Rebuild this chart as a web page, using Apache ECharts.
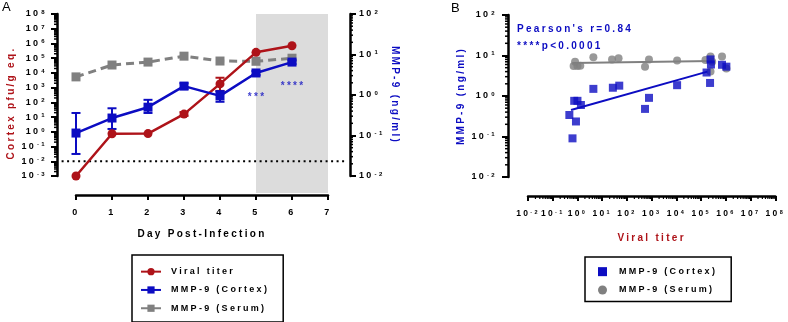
<!DOCTYPE html>
<html><head><meta charset="utf-8">
<script src="https://cdn.jsdelivr.net/npm/echarts@6/dist/echarts.min.js"></script>
<style>html,body{margin:0;padding:0;background:#fff}#c{width:788px;height:322px}</style>
</head><body><div id="c"></div>
<script>
// GraphPad-style wide character spacing for all canvas text
(function(){
  const P = CanvasRenderingContext2D.prototype;
  const LS = '2.3px';
  const f = P.fillText, m = P.measureText;
  P.fillText = function(){ try{ this.letterSpacing = LS; }catch(e){} return f.apply(this, arguments); };
  P.measureText = function(){ try{ this.letterSpacing = LS; }catch(e){} return m.apply(this, arguments); };
})();

// ---------- Panel A data ----------
const days = [0, 1, 2, 3, 4, 5, 6];
const viralTiter = [0.001, 0.74, 0.76, 16, 1800, 250000, 700000];
const viralErrDays = [3, 4];
const viralErrLow = [12, 600];
const viralErrHigh = [22, 4700];
const cortexMean = [0.115, 0.27, 0.5, 1.66, 0.95, 3.5, 6.5];
const cortexLow  = [0.035, 0.145, 0.36, 1.4, 0.68, 3.1, 5.8];
const cortexHigh = [0.36, 0.47, 0.76, 1.95, 1.25, 3.9, 7.2];
const serumMean = [2.8, 5.5, 6.5, 9.1, 6.9, 6.8, 8.1];
const shadedDays = [5, 7];
const detectionLimit = 0.01;
const detectionLineDays = [-0.4, 7.5];
const starDays = [5.03, 6.03];
const starY = [0.89, 1.66];
const starText = ['***', '****'];

// ---------- Panel B data ----------
const serumX = [0.7, 0.8, 1.0, 1.3, 4.4, 25, 46, 540, 780, 10700, 150000, 240000, 280000, 240000, 700000, 1050000];
const serumY = [5.5, 7.0, 5.5, 5.6, 9.0, 8.0, 8.5, 5.3, 8.0, 7.5, 7.7, 9.4, 7.0, 4.0, 9.4, 4.8];
const cortexX = [0.47, 0.74, 1.0, 1.38, 0.87, 0.63, 4.4, 27, 49, 540, 780, 10700, 166000, 240000, 250000, 230000, 700000, 1050000];
const cortexY = [0.34, 0.76, 0.76, 0.6, 0.235, 0.09, 1.5, 1.6, 1.8, 0.48, 0.9, 1.85, 3.8, 8.0, 6.0, 2.1, 5.9, 5.3];
const serumFitX = [0.63, 280000];
const serumFitY = [6.5, 7.3];
const cortexFitX = [0.55, 180000];
const cortexFitY = [0.45, 4.0];

// ---------- styling ----------
const FF = '"Liberation Sans", Arial, sans-serif';
const RED = '#ae1319', BLUE = '#0c0cc2', GRAY = '#808080', SHADE = '#dcdcdc';
const OFF_AX = 19, OFF_AYL = 19, OFF_AYR = 22, OFF_BX = 19, OFF_BY = 20;

function pow10(v){ const e = Math.round(Math.log10(v)); return '{b|10}{s|' + e + '}'; }
const rich = {
  b: {fontSize: 9, fontWeight: 'bold', fontFamily: FF, color: '#000', lineHeight: 12},
  s: {fontSize: 6, fontWeight: 'bold', fontFamily: FF, color: '#000', verticalAlign: 'top', padding: [0, 0, 0, 1]}
};
const richTight = {
  b: {fontSize: 8.5, fontWeight: 'bold', fontFamily: FF, color: '#000', lineHeight: 12},
  s: {fontSize: 5.5, fontWeight: 'bold', fontFamily: FF, color: '#000', verticalAlign: 'top'}
};
const axisLine = {show: true, onZero: false, lineStyle: {color: '#000', width: 2.5}};
const axisTick = {show: true, length: 6, lineStyle: {color: '#000', width: 2}};
const nameStyle = (c, pad) => ({fontSize: 10, fontWeight: 'bold', fontFamily: FF, color: c, padding: pad || 0});

function minorVals(lo, hi){ const r = []; for (let k = lo; k < hi; k++) for (let j = 2; j <= 9; j++) r.push(j * Math.pow(10, k)); return r; }

function errSeries(xIdx, yIdx, xs, lo, hi, color){
  return {
    type: 'custom', xAxisIndex: xIdx, yAxisIndex: yIdx, z: 3, clip: false,
    encode: {x: 0, y: [1, 2]},
    data: xs.map((x, i) => [x, lo[i], hi[i]]),
    renderItem(params, api){
      const a = api.coord([api.value(0), api.value(1)]), b = api.coord([api.value(0), api.value(2)]);
      const w = 4.5, st = {stroke: color, lineWidth: 2};
      return {type: 'group', children: [
        {type: 'line', shape: {x1: a[0], y1: a[1], x2: b[0], y2: b[1]}, style: st},
        {type: 'line', shape: {x1: a[0] - w, y1: a[1], x2: a[0] + w, y2: a[1]}, style: st},
        {type: 'line', shape: {x1: b[0] - w, y1: b[1], x2: b[0] + w, y2: b[1]}, style: st}
      ]};
    }
  };
}
// minor ticks on a y axis that is offset from the grid edge
function minorY(xIdx, yIdx, xRef, vals, dir, off){
  return {
    type: 'custom', xAxisIndex: xIdx, yAxisIndex: yIdx, clip: false, silent: true, z: 5,
    encode: {x: 0, y: 1}, data: vals.map(v => [xRef, v]),
    renderItem(params, api){
      const p = api.coord([api.value(0), api.value(1)]);
      const x0 = p[0] + dir * off;
      return {type: 'line', shape: {x1: x0, y1: p[1], x2: x0 + dir * 3, y2: p[1]}, style: {stroke: '#000', lineWidth: 1.5}};
    }
  };
}
function minorX(xIdx, yIdx, yRef, vals, off){
  return {
    type: 'custom', xAxisIndex: xIdx, yAxisIndex: yIdx, clip: false, silent: true, z: 5,
    encode: {x: 0, y: 1}, data: vals.map(v => [v, yRef]),
    renderItem(params, api){
      const p = api.coord([api.value(0), api.value(1)]);
      const y0 = p[1] + off;
      return {type: 'line', shape: {x1: p[0], y1: y0, x2: p[0], y2: y0 + 3}, style: {stroke: '#000', lineWidth: 1.2}};
    }
  };
}

const chart = echarts.init(document.getElementById('c'), null, {renderer: 'canvas'});
const option = {
  animation: false,
  backgroundColor: '#fff',
  grid: [
    {left: 76, top: 14, width: 252, height: 162},
    {left: 528, top: 15, width: 251, height: 162}
  ],
  xAxis: [
    {gridIndex: 0, type: 'value', min: 0, max: 7, interval: 1, offset: OFF_AX,
     axisLine, axisTick: {show: true, length: 5, lineStyle: {color: '#000', width: 2}}, splitLine: {show: false},
     axisLabel: {fontSize: 9, fontWeight: 'bold', fontFamily: FF, color: '#000', margin: 12},
     name: 'Day Post-Infection', nameLocation: 'middle', nameGap: 33, nameTextStyle: nameStyle('#000')},
    {gridIndex: 1, type: 'log', logBase: 10, min: 0.01, max: 1e8, interval: 1, splitNumber: 10, offset: OFF_BX,
     axisLine, axisTick: {show: true, length: 5, lineStyle: {color: '#000', width: 2}}, splitLine: {show: false}, minorTick: {show: false},
     axisLabel: {formatter: pow10, rich: richTight, margin: 12, interval: 0, hideOverlap: false, showMinLabel: true, showMaxLabel: true},
     name: 'Viral titer', nameLocation: 'middle', nameGap: 36, nameTextStyle: nameStyle(RED)}
  ],
  yAxis: [
    {gridIndex: 0, type: 'log', logBase: 10, min: 0.001, max: 1e8, interval: 1, splitNumber: 11, offset: OFF_AYL, position: 'left',
     axisLine, axisTick, splitLine: {show: false}, minorTick: {show: false},
     axisLabel: {formatter: pow10, rich, margin: 10, interval: 0},
     name: 'Cortex pfu/g eq.', nameLocation: 'middle', nameRotate: 90, nameGap: 29, nameTextStyle: nameStyle(RED, [0, 16, 0, 0])},
    {gridIndex: 0, type: 'log', logBase: 10, min: 0.01, max: 100, interval: 1, splitNumber: 4, offset: OFF_AYR, position: 'right',
     axisLine, axisTick, splitLine: {show: false}, minorTick: {show: false},
     axisLabel: {formatter: pow10, rich, margin: 9, interval: 0},
     name: 'MMP-9 (ng/ml)', nameLocation: 'middle', nameRotate: -90, nameGap: 27, nameTextStyle: nameStyle(BLUE)},
    {gridIndex: 1, type: 'log', logBase: 10, min: 0.01, max: 100, interval: 1, splitNumber: 4, offset: OFF_BY, position: 'left',
     axisLine, axisTick, splitLine: {show: false}, minorTick: {show: false},
     axisLabel: {formatter: pow10, rich, margin: 11, interval: 0},
     name: 'MMP-9 (ng/ml)', nameLocation: 'middle', nameRotate: 90, nameGap: 30, nameTextStyle: nameStyle(BLUE)}
  ],
  legend: [
    {orient: 'vertical', left: 132, top: 255, borderColor: '#000', borderWidth: 1.5, padding: [11, 14, 8, 8],
     itemWidth: 20, itemHeight: 9, itemGap: 7,
     textStyle: {fontSize: 9, fontWeight: 'bold', fontFamily: FF, color: '#000', padding: [0, 0, 0, 5]},
     data: ['Viral titer', 'MMP-9 (Cortex)', 'MMP-9 (Serum)']},
    {orient: 'vertical', left: 585, top: 257, borderColor: '#000', borderWidth: 1.5, padding: [9, 14, 6, 13],
     itemWidth: 9, itemHeight: 9, itemGap: 7,
     textStyle: {fontSize: 9, fontWeight: 'bold', fontFamily: FF, color: '#000', padding: [0, 0, 0, 7]},
     data: [{name: 'MMP-9 (Cortex)', icon: 'rect'}, {name: 'MMP-9 (Serum)', icon: 'circle'}]}
  ],
  graphic: [
    {type: 'text', left: 2, top: 0, style: {text: 'A', fontSize: 13, fontFamily: FF, fill: '#000'}},
    {type: 'text', left: 451, top: 1, style: {text: 'B', fontSize: 13, fontFamily: FF, fill: '#000'}},
    {type: 'text', left: 517, top: 23, style: {text: "Pearson's r=0.84", fontSize: 10, fontWeight: 'bold', fontFamily: FF, fill: BLUE}},
    {type: 'text', left: 517, top: 40, style: {text: '****p<0.0001', fontSize: 10, fontWeight: 'bold', fontFamily: FF, fill: BLUE}}
  ],
  series: [
    // shaded window
    {type: 'custom', xAxisIndex: 0, yAxisIndex: 0, z: 0, clip: false, silent: true,
     encode: {x: [0, 1]}, data: [[shadedDays[0], shadedDays[1]]],
     renderItem(params, api){
       const p1 = api.coord([api.value(0), 1e8]), p2 = api.coord([api.value(1), 0.001]);
       return {type: 'rect', shape: {x: p1[0], y: p1[1], width: p2[0] - p1[0], height: p2[1] - p1[1] + OFF_AX - 2}, style: {fill: SHADE}};
     }},
    // detection limit (dotted)
    {type: 'custom', xAxisIndex: 0, yAxisIndex: 0, z: 1, clip: false, silent: true,
     encode: {x: [0, 1], y: 2}, data: [[detectionLineDays[0], detectionLineDays[1], detectionLimit]],
     renderItem(params, api){
       const a = api.coord([api.value(0), api.value(2)]), b = api.coord([api.value(1), api.value(2)]);
       return {type: 'line', shape: {x1: a[0], y1: a[1], x2: b[0], y2: b[1]}, style: {stroke: '#000', lineWidth: 2, lineDash: [2, 3.5]}};
     }},
    errSeries(0, 0, viralErrDays, viralErrLow, viralErrHigh, RED),
    errSeries(0, 1, days, cortexLow, cortexHigh, BLUE),
    {name: 'MMP-9 (Serum)', type: 'line', xAxisIndex: 0, yAxisIndex: 1, z: 2,
     data: days.map((d, i) => [d, serumMean[i]]), symbol: 'rect', symbolSize: 9,
     itemStyle: {color: GRAY}, lineStyle: {color: GRAY, width: 3, type: [8, 5]}},
    {name: 'Viral titer', type: 'line', xAxisIndex: 0, yAxisIndex: 0, z: 4,
     data: days.map((d, i) => [d, viralTiter[i]]), symbol: 'circle', symbolSize: 9,
     itemStyle: {color: RED}, lineStyle: {color: RED, width: 2.5}},
    {name: 'MMP-9 (Cortex)', type: 'line', xAxisIndex: 0, yAxisIndex: 1, z: 4,
     data: days.map((d, i) => [d, cortexMean[i]]), symbol: 'rect', symbolSize: 9,
     itemStyle: {color: BLUE}, lineStyle: {color: BLUE, width: 2.5}},
    {type: 'scatter', xAxisIndex: 0, yAxisIndex: 1, z: 6, silent: true, symbolSize: 1,
     itemStyle: {color: 'rgba(0,0,0,0)'},
     data: starDays.map((d, i) => [d, starY[i], starText[i]]),
     label: {show: true, position: 'inside', formatter: p => p.value[2], fontSize: 10, fontWeight: 'bold', fontFamily: FF, color: BLUE}},
    minorY(0, 0, 0, minorVals(-3, 8), -1, OFF_AYL),
    minorY(0, 1, 7, minorVals(-2, 2), 1, OFF_AYR),
    // Panel B
    {name: 'MMP-9 (Serum)', type: 'scatter', xAxisIndex: 1, yAxisIndex: 2, z: 3,
     data: serumX.map((x, i) => [x, serumY[i]]), symbol: 'circle', symbolSize: 8, itemStyle: {color: GRAY}},
    {type: 'line', xAxisIndex: 1, yAxisIndex: 2, z: 3, symbol: 'none', silent: true,
     data: serumFitX.map((x, i) => [x, serumFitY[i]]), lineStyle: {color: GRAY, width: 2}},
    {name: 'MMP-9 (Cortex)', type: 'scatter', xAxisIndex: 1, yAxisIndex: 2, z: 4,
     data: cortexX.map((x, i) => [x, cortexY[i]]), symbol: 'rect', symbolSize: 8, itemStyle: {color: BLUE}},
    {type: 'line', xAxisIndex: 1, yAxisIndex: 2, z: 4, symbol: 'none', silent: true,
     data: cortexFitX.map((x, i) => [x, cortexFitY[i]]), lineStyle: {color: BLUE, width: 2}},
    minorY(1, 2, 0.01, minorVals(-2, 2), -1, OFF_BY),
    minorX(1, 2, 0.01, minorVals(-2, 8), OFF_BX)
  ]
};
chart.setOption(option);
</script>
</body></html>
